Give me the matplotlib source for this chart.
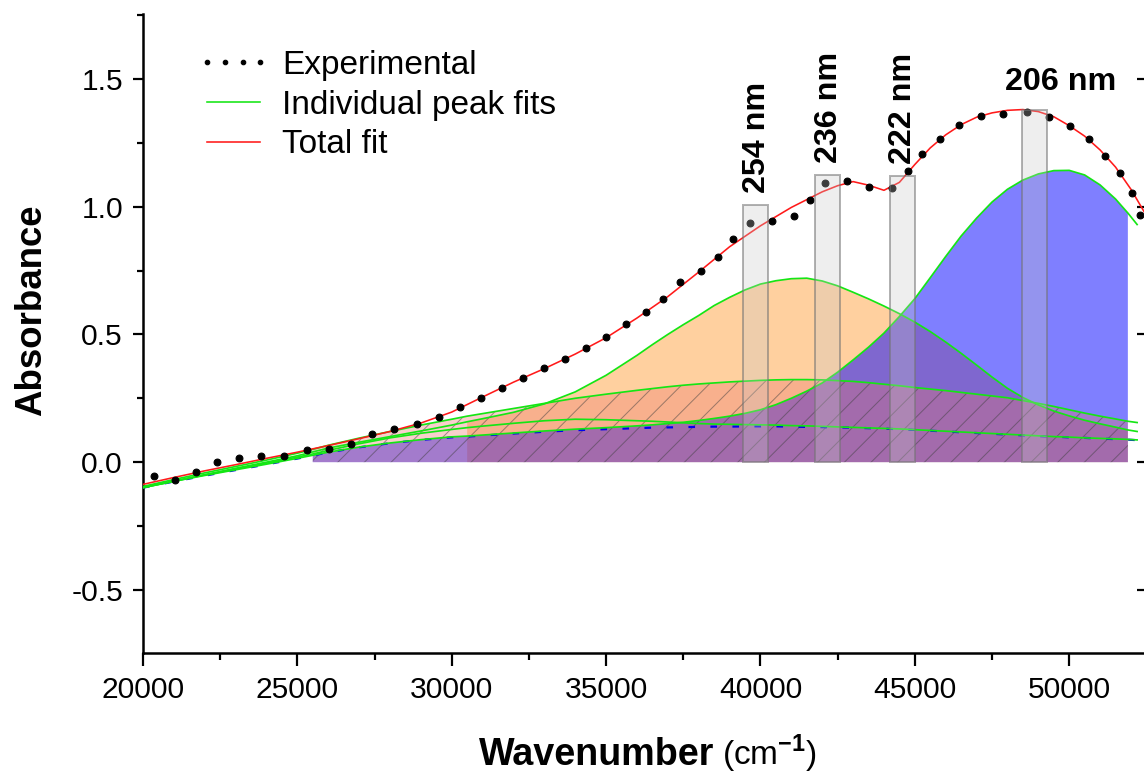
#!/usr/bin/env python3

import numpy as np
import matplotlib
matplotlib.use('Agg')
from matplotlib import pyplot as plt
from matplotlib.lines import Line2D
from matplotlib.ticker import MultipleLocator

# Experimental points: wavenumber (cm-1), absorbance
exp_x = [20356, 21037, 21717, 22388, 23120, 23823, 24568, 25297, 26025, 26748,
         27418, 28141, 28870, 29596, 30279, 30943, 31623, 32320, 33000, 33671,
         34341, 34999, 35637, 36285, 36855, 37406, 38067, 38617, 39103, 39654,
         40360, 41089, 41607, 42103, 42806, 43528, 44254, 44772, 45245, 45819,
         46434, 47137, 47869, 48627, 49350, 50030, 50645, 51174, 51650, 52048,
         52297]
exp_y = [-0.053, -0.070, -0.038, -0.001, 0.018, 0.023, 0.023, 0.046, 0.052, 0.070,
         0.112, 0.130, 0.151, 0.176, 0.214, 0.252, 0.292, 0.331, 0.367, 0.402,
         0.445, 0.488, 0.540, 0.586, 0.638, 0.706, 0.748, 0.804, 0.873, 0.937,
         0.944, 0.963, 1.025, 1.093, 1.099, 1.078, 1.072, 1.139, 1.208, 1.265,
         1.318, 1.354, 1.361, 1.369, 1.349, 1.316, 1.264, 1.199, 1.130, 1.052,
         0.969]

# Total fit
fit_x = [20000, 21000, 22000, 23000, 24000, 25000, 26000, 27000, 28000, 29000,
         30000, 31000, 32000, 33000, 34000, 35000, 36000, 37000, 38000, 39000,
         40000, 41000, 42000, 42500, 43000, 43500, 44000, 44500, 45000, 45500,
         46000, 46500, 47000, 47500, 48000, 48500, 49000, 49500, 50000, 50500,
         51000, 51500, 52000, 52500]
fit_y = [-0.087, -0.060, -0.034, -0.010, 0.015, 0.039, 0.065, 0.092, 0.120, 0.153,
         0.196, 0.255, 0.313, 0.366, 0.423, 0.487, 0.564, 0.648, 0.744, 0.843,
         0.925, 0.997, 1.058, 1.082, 1.098, 1.084, 1.064, 1.095, 1.165, 1.230,
         1.281, 1.321, 1.350, 1.367, 1.377, 1.380, 1.372, 1.352, 1.317, 1.276,
         1.222, 1.155, 1.068, 0.965]

# Individual peak curves (drawn on the baseline), all read on the same grid
peak_x = [20000, 21000, 22000, 23000, 24000, 25000, 25500, 26000, 27000, 28000,
          29000, 30000, 30500, 31000, 32000, 33000, 34000, 35000, 36000, 36500,
          37000, 37500, 38000, 38500, 39000, 39500, 40000, 40500, 41000, 41500,
          42000, 42500, 43000, 43500, 44000, 44500, 45000, 45500, 46000, 46500,
          47000, 47500, 48000, 48500, 49000, 49500, 50000, 50500, 51000, 51500,
          51900, 52200]
baseline_y = [-0.100, -0.076, -0.053, -0.031, -0.009, 0.014, 0.026, 0.038, 0.058, 0.074,
              0.087, 0.097, 0.100, 0.104, 0.112, 0.119, 0.125, 0.129, 0.133, 0.135,
              0.136, 0.137, 0.138, 0.139, 0.139, 0.140, 0.140, 0.140, 0.139, 0.138,
              0.137, 0.136, 0.135, 0.133, 0.131, 0.129, 0.126, 0.123, 0.120, 0.117,
              0.114, 0.111, 0.108, 0.105, 0.102, 0.100, 0.097, 0.095, 0.092, 0.090,
              0.088, 0.086]
peak_blue_y = [-0.099, -0.075, -0.052, -0.030, -0.008, 0.015, 0.027, 0.039, 0.059, 0.075,
               0.088, 0.099, 0.102, 0.106, 0.114, 0.122, 0.129, 0.135, 0.142, 0.146,
               0.151, 0.156, 0.163, 0.171, 0.180, 0.191, 0.205, 0.225, 0.250, 0.278,
               0.310, 0.352, 0.400, 0.450, 0.505, 0.570, 0.640, 0.722, 0.805, 0.885,
               0.955, 1.018, 1.068, 1.104, 1.128, 1.141, 1.142, 1.124, 1.085, 1.030,
               0.975, 0.930]
peak_orange_y = [-0.100, -0.074, -0.049, -0.024, 0.000, 0.025, 0.040, 0.055, 0.078, 0.100,
                 0.122, 0.145, 0.158, 0.170, 0.195, 0.228, 0.275, 0.340, 0.418, 0.460,
                 0.500, 0.538, 0.574, 0.613, 0.645, 0.674, 0.697, 0.710, 0.718, 0.720,
                 0.709, 0.690, 0.665, 0.639, 0.611, 0.581, 0.548, 0.511, 0.470, 0.426,
                 0.380, 0.333, 0.289, 0.253, 0.224, 0.200, 0.181, 0.164, 0.150, 0.137,
                 0.126, 0.120]
peak_broad_y = [-0.095, -0.068, -0.042, -0.017, 0.008, 0.035, 0.050, 0.066, 0.094, 0.120,
                0.145, 0.168, 0.180, 0.190, 0.210, 0.230, 0.250, 0.266, 0.281, 0.288,
                0.295, 0.301, 0.306, 0.310, 0.314, 0.317, 0.320, 0.322, 0.323, 0.323,
                0.322, 0.319, 0.316, 0.311, 0.305, 0.299, 0.292, 0.286, 0.280, 0.273,
                0.266, 0.259, 0.252, 0.241, 0.230, 0.218, 0.205, 0.192, 0.180, 0.169,
                0.160, 0.155]
peak_small_y = [-0.100, -0.075, -0.050, -0.027, -0.004, 0.020, 0.032, 0.046, 0.072, 0.095,
                0.113, 0.128, 0.135, 0.141, 0.152, 0.162, 0.168, 0.166, 0.162, 0.160,
                0.157, 0.154, 0.151, 0.149, 0.148, 0.147, 0.146, 0.145, 0.143, 0.142,
                0.140, 0.138, 0.136, 0.134, 0.132, 0.130, 0.127, 0.124, 0.121, 0.118,
                0.115, 0.112, 0.109, 0.106, 0.103, 0.100, 0.098, 0.095, 0.093, 0.091,
                0.089, 0.087]

# Wavelength marker bars
band_labels = ['254 nm', '236 nm', '222 nm', '206 nm']
band_x = [39840, 42175, 44600, 48880]
band_top = [1.008, 1.123, 1.119, 1.380]

FILL_START = 25500
FILL_START_ORANGE = 30500
FILL_END = 51900

GREEN = '#14e614'
RED = '#ff1a1a'
DPI = 80


def px(n):
    """pixels -> points at this dpi"""
    return n * 72 / DPI


def main():
    plt.rcParams['font.family'] = ['Liberation Sans', 'DejaVu Sans']
    plt.rcParams['mathtext.fontset'] = 'custom'
    plt.rcParams['mathtext.rm'] = 'Liberation Sans'
    plt.rcParams['mathtext.bf'] = 'Liberation Sans:bold'
    plt.rcParams['hatch.linewidth'] = 0.9

    fig = plt.figure(figsize=(1144 / DPI, 775 / DPI), dpi=DPI)
    ax = fig.add_axes([143 / 1144, 122 / 775, 1004 / 1144, 639 / 775])

    x = np.array(peak_x)
    full = (x >= FILL_START) & (x <= FILL_END)
    part = (x >= FILL_START_ORANGE) & (x <= FILL_END)

    ax.fill_between(x, 0, peak_orange_y, where=part, facecolor=(1.0, 0.64, 0.25),
                    alpha=0.5, linewidth=0, zorder=1)
    ax.fill_between(x, 0, peak_blue_y, where=full, facecolor=(0, 0, 1.0),
                    alpha=0.5, linewidth=0, zorder=2)
    ax.fill_between(x, 0, peak_broad_y, where=full, facecolor=(0.92, 0.46, 0.42, 0.34),
                    linewidth=0, zorder=3)
    ax.fill_between(x, 0, peak_broad_y, where=full, facecolor='none',
                    edgecolor=(0.25, 0.25, 0.25, 0.5), hatch='/', linewidth=0, zorder=3)

    ax.plot(x, baseline_y, color='#0000ee', lw=px(2.2), ls=(0, (3, 7)), zorder=4)
    for ys in (peak_blue_y, peak_orange_y, peak_broad_y, peak_small_y):
        ax.plot(x, ys, color=GREEN, lw=px(1.7), zorder=5)

    ax.plot(fit_x, fit_y, color=RED, lw=px(1.6), zorder=6)
    ax.plot(exp_x, exp_y, ls='none', marker='o', ms=px(6.8), color='k', zorder=7)

    ax.bar(band_x, band_top, width=820, bottom=0, color=(0.78, 0.78, 0.78, 0.3),
           edgecolor=(0.45, 0.45, 0.45, 0.55), linewidth=px(2), zorder=8)
    for lab, bx, top in zip(band_labels, band_x, band_top):
        if lab == '206 nm':
            ax.annotate(lab, (bx, top), xytext=(px(26), px(13)), textcoords='offset points',
                        ha='center', va='bottom', fontsize=29, fontweight='bold', zorder=9)
        else:
            ax.annotate(lab, (bx, top), xytext=(px(1), px(12)), textcoords='offset points',
                        ha='center', va='bottom', rotation=90, fontsize=29,
                        fontweight='bold', zorder=9)

    ax.set_xlim(20000, 52520)
    ax.set_ylim(-0.747, 1.754)
    ax.xaxis.set_major_locator(MultipleLocator(5000))
    ax.xaxis.set_minor_locator(MultipleLocator(2500))
    ax.yaxis.set_major_locator(MultipleLocator(0.5))
    ax.yaxis.set_minor_locator(MultipleLocator(0.25))
    ax.yaxis.set_major_formatter(lambda v, pos: f'{v:.1f}')

    ax.spines['top'].set_visible(False)
    for s in ('left', 'bottom', 'right'):
        ax.spines[s].set_linewidth(px(2.5))
    ax.tick_params(which='both', labelsize=27, width=px(2.2), direction='out')
    ax.tick_params(axis='x', which='major', length=px(13), pad=px(10))
    ax.tick_params(axis='x', which='minor', length=px(7))
    ax.tick_params(axis='y', which='major', length=px(10), pad=px(10))
    ax.tick_params(axis='y', which='minor', length=px(6))

    # right-hand axis: inward major ticks only
    right = ax.secondary_yaxis('right')
    right.yaxis.set_major_locator(MultipleLocator(0.5))
    right.tick_params(direction='in', length=px(10), width=px(2.2), labelright=False)
    right.spines['right'].set_linewidth(px(2.5))

    fig.text(32 / 1144, 1 - 310 / 775, 'Absorbance', rotation=90, ha='center',
             va='center', fontsize=33, fontweight='bold')
    fig.text(479 / 1144, 10 / 775, 'Wavenumber', ha='left', va='baseline',
             fontsize=34, fontweight='bold')
    fig.text(722 / 1144, 10 / 775, r'(cm$^{\mathbf{-1}}$)', ha='left', va='baseline',
             fontsize=30)

    handles = [
        Line2D([], [], ls='none', marker='o', ms=px(4.5), color='k'),
        Line2D([], [], color=GREEN, lw=px(1.6)),
        Line2D([], [], color=RED, lw=px(1.6)),
    ]
    ax.legend(handles, ['Experimental', 'Individual peak fits', 'Total fit'],
              loc='upper left', bbox_to_anchor=(197 / 1144, 1 - 50 / 775),
              bbox_transform=fig.transFigure, frameon=False, fontsize=30,
              numpoints=4, handlelength=2.2, handletextpad=0.36, labelspacing=0.26,
              borderpad=0, borderaxespad=0)

    fig.savefig('out.png', dpi=DPI)


if __name__ == '__main__':
    main()
